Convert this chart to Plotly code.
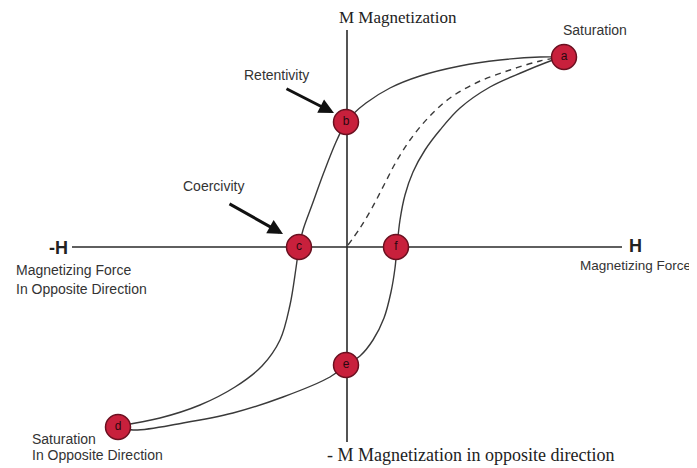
import plotly.graph_objects as go

# Hysteresis diagram, drawn in a pixel-like coordinate space (x right, y down)
upper_x = [562, 540, 500, 460, 420, 390, 366, 352, 346, 336, 324, 312, 303, 299, 296, 290, 280, 262, 235, 200, 160, 118]
upper_y = [57, 57, 60, 66, 76, 88, 103, 115, 122, 142, 172, 205, 230, 247, 268, 305, 340, 366, 387, 405, 418, 426]

lower_x = [118, 133, 183, 233, 283, 330, 346, 360, 373, 384, 391, 395, 397, 400, 405, 413, 425, 440, 460, 490, 523, 545, 562]
lower_y = [426, 430, 423, 413, 397, 377, 365, 356, 340, 318, 292, 268, 247, 220, 195, 172, 150, 130, 108, 87, 72, 63, 57]

initial_x = [348, 360, 372, 384, 396, 410, 428, 450, 478, 510, 540, 562]
initial_y = [245, 228, 208, 185, 162, 140, 118, 98, 82, 70, 61, 57]

point_labels = ["a", "b", "c", "d", "e", "f"]
point_x = [564, 346, 299, 118, 346, 396]
point_y = [57, 122, 247, 427, 365, 247]

axis_v_x = [347, 347]
axis_v_y = [30, 442]
axis_h_x = [72, 622]
axis_h_y = [247, 247]

fig = go.Figure()

line_col = "#3a3a3a"
fig.add_trace(go.Scatter(x=axis_v_x, y=axis_v_y, mode="lines",
                         line=dict(color="#2a2a2a", width=1.6), hoverinfo="skip"))
fig.add_trace(go.Scatter(x=axis_h_x, y=axis_h_y, mode="lines",
                         line=dict(color="#2a2a2a", width=1.6), hoverinfo="skip"))
fig.add_trace(go.Scatter(x=upper_x, y=upper_y, mode="lines",
                         line=dict(color=line_col, width=1.4, shape="spline", smoothing=1.0)))
fig.add_trace(go.Scatter(x=lower_x, y=lower_y, mode="lines",
                         line=dict(color=line_col, width=1.4, shape="spline", smoothing=1.0)))
fig.add_trace(go.Scatter(x=initial_x, y=initial_y, mode="lines",
                         line=dict(color=line_col, width=1.4, dash="6px,5px", shape="spline", smoothing=1.0)))
fig.add_trace(go.Scatter(x=point_x, y=point_y, mode="markers+text",
                         marker=dict(size=25, color="#c8203c", line=dict(color="#6a1020", width=1.5)),
                         text=point_labels, textposition="middle center",
                         textfont=dict(family="Liberation Sans", size=12, color="#2a0810")))

sans = "Liberation Sans"
serif = "Liberation Serif"
anns = [
    dict(x=398, y=17, text="M Magnetization", font=dict(family=serif, size=17, color="#222")),
    dict(x=595, y=30, text="Saturation", font=dict(family=sans, size=14, color="#333")),
    dict(x=276, y=75, text="Retentivity", font=dict(family=sans, size=14, color="#333")),
    dict(x=213, y=186, text="Coercivity", font=dict(family=sans, size=14, color="#333")),
    dict(x=58, y=248, text="<b>-H</b>", font=dict(family=sans, size=18, color="#222")),
    dict(x=635, y=246, text="<b>H</b>", font=dict(family=sans, size=18, color="#222")),
    dict(x=14, y=270, text="Magnetizing Force", xanchor="left", font=dict(family=sans, size=14, color="#333")),
    dict(x=14, y=289, text="In Opposite Direction", xanchor="left", font=dict(family=sans, size=14, color="#333")),
    dict(x=693, y=265, text="Magnetizing Force", xanchor="right",
         font=dict(family=sans, size=13.5, color="#333")),
    dict(x=30, y=439, text="Saturation", xanchor="left", font=dict(family=sans, size=14, color="#333")),
    dict(x=30, y=455, text="In Opposite Direction", xanchor="left", font=dict(family=sans, size=14, color="#333")),
    dict(x=470, y=455, text="- M Magnetization in opposite direction", font=dict(family=serif, size=18, color="#222")),
]
for a in anns:
    a.setdefault("xanchor", "center")
    fig.add_annotation(xref="x", yref="y", showarrow=False, yanchor="middle", **a)

for (tx, ty, hx, hy) in [(285, 88, 334, 113), (228, 203, 283, 234)]:
    fig.add_annotation(x=hx, y=hy, ax=tx, ay=ty, xref="x", yref="y", axref="x", ayref="y",
                       showarrow=True, arrowhead=2, arrowsize=1.0, arrowwidth=3, arrowcolor="#111", text="")

# The page body has an 8px margin; shift the coordinate window so values map to page pixels.
fig.update_layout(
    width=689, height=460, margin=dict(l=0, r=0, t=0, b=0),
    paper_bgcolor="white", plot_bgcolor="white", showlegend=False,
    xaxis=dict(range=[8, 697], visible=False, fixedrange=True),
    yaxis=dict(range=[468, 8], visible=False, fixedrange=True),
)
fig.write_html("out.html")
